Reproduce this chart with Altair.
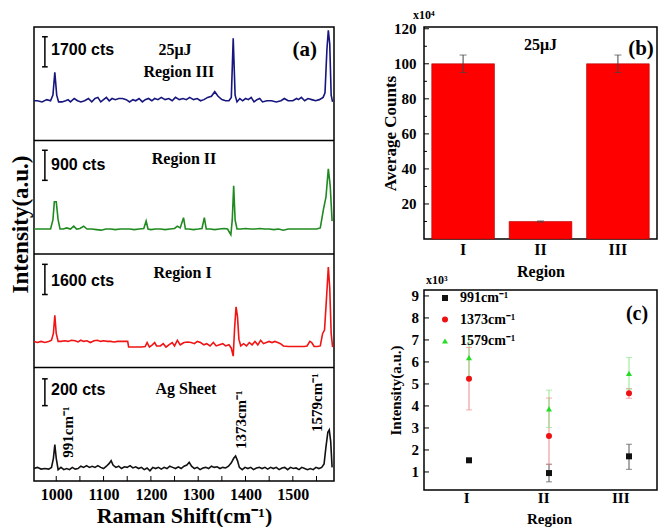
import altair as alt
import pandas as pd

SERIF = "Liberation Serif"
SANS = "Liberation Sans"

# ---------------- (a) Raman spectra ----------------
# (Raman shift cm-1, intensity as a fraction of the strip height)
REGION_III = [
    (953, 0.35), (960, 0.35), (970, 0.34), (980, 0.36), (988, 0.35), (993, 0.40),
    (997, 0.60), (1001, 0.40), (1005, 0.34), (1012, 0.34), (1020, 0.35), (1025, 0.36),
    (1030, 0.34), (1038, 0.37), (1045, 0.35), (1052, 0.34), (1060, 0.35), (1068, 0.37),
    (1075, 0.34), (1082, 0.37), (1088, 0.38), (1094, 0.34), (1100, 0.36), (1106, 0.38),
    (1112, 0.35), (1118, 0.37), (1125, 0.36), (1132, 0.37), (1140, 0.37), (1148, 0.36),
    (1155, 0.34), (1162, 0.36), (1168, 0.35), (1175, 0.37), (1182, 0.34), (1188, 0.36),
    (1195, 0.37), (1202, 0.35), (1208, 0.37), (1215, 0.36), (1222, 0.38), (1230, 0.36),
    (1238, 0.37), (1245, 0.35), (1252, 0.38), (1260, 0.36), (1268, 0.37), (1275, 0.36),
    (1282, 0.38), (1290, 0.36), (1298, 0.37), (1305, 0.35), (1312, 0.36), (1320, 0.38),
    (1328, 0.39), (1335, 0.43), (1342, 0.39), (1350, 0.36), (1358, 0.35), (1365, 0.35),
    (1370, 0.38), (1374, 0.90), (1378, 0.40), (1382, 0.34), (1388, 0.37), (1394, 0.35),
    (1400, 0.37), (1406, 0.36), (1412, 0.38), (1418, 0.34), (1424, 0.36), (1430, 0.37),
    (1436, 0.34), (1445, 0.35), (1455, 0.35), (1465, 0.34), (1475, 0.35), (1482, 0.37),
    (1490, 0.35), (1500, 0.35), (1508, 0.37), (1512, 0.36), (1518, 0.38), (1525, 0.35),
    (1532, 0.37), (1540, 0.36), (1548, 0.35), (1556, 0.36), (1564, 0.38), (1568, 0.42),
    (1572, 0.80), (1575, 0.97), (1578, 0.85), (1581, 0.40), (1584, 0.34),
]
REGION_II = [
    (953, 0.22), (965, 0.22), (978, 0.22), (988, 0.22), (993, 0.30), (996, 0.46),
    (1000, 0.46), (1004, 0.30), (1008, 0.22), (1015, 0.22), (1022, 0.23), (1030, 0.22),
    (1037, 0.245), (1043, 0.22), (1050, 0.225), (1058, 0.245), (1065, 0.22), (1075, 0.22),
    (1085, 0.215), (1095, 0.21), (1105, 0.22), (1115, 0.22), (1125, 0.215), (1135, 0.22),
    (1145, 0.22), (1155, 0.22), (1165, 0.215), (1175, 0.22), (1185, 0.225), (1190, 0.29),
    (1194, 0.22), (1200, 0.215), (1210, 0.22), (1220, 0.22), (1230, 0.215), (1240, 0.22),
    (1250, 0.225), (1256, 0.245), (1262, 0.23), (1269, 0.32), (1273, 0.22), (1280, 0.22),
    (1290, 0.215), (1300, 0.22), (1308, 0.225), (1313, 0.32), (1317, 0.22), (1325, 0.22),
    (1335, 0.215), (1345, 0.22), (1355, 0.225), (1362, 0.22), (1369, 0.17), (1372, 0.30),
    (1375, 0.60), (1378, 0.30), (1382, 0.22), (1390, 0.22), (1400, 0.225), (1410, 0.22),
    (1420, 0.22), (1430, 0.225), (1440, 0.22), (1450, 0.22), (1460, 0.215), (1470, 0.22),
    (1480, 0.21), (1490, 0.22), (1500, 0.22), (1510, 0.22), (1520, 0.22), (1530, 0.22),
    (1540, 0.22), (1550, 0.22), (1558, 0.23), (1565, 0.40), (1570, 0.50), (1575, 0.75),
    (1579, 0.60), (1583, 0.29),
]
REGION_I = [
    (953, 0.23), (960, 0.22), (968, 0.23), (976, 0.22), (984, 0.23), (990, 0.24),
    (994, 0.30), (997, 0.46), (1000, 0.30), (1004, 0.23), (1010, 0.23), (1018, 0.235),
    (1025, 0.23), (1032, 0.24), (1040, 0.235), (1046, 0.225), (1052, 0.24), (1058, 0.23),
    (1065, 0.235), (1072, 0.22), (1080, 0.235), (1087, 0.24), (1094, 0.23), (1100, 0.235),
    (1108, 0.23), (1115, 0.23), (1122, 0.225), (1130, 0.23), (1138, 0.23), (1145, 0.23),
    (1151, 0.23), (1153, 0.18), (1160, 0.18), (1170, 0.18), (1180, 0.18), (1188, 0.185),
    (1192, 0.22), (1197, 0.18), (1203, 0.20), (1208, 0.22), (1212, 0.19), (1220, 0.19),
    (1226, 0.21), (1232, 0.18), (1238, 0.20), (1245, 0.22), (1250, 0.19), (1256, 0.24),
    (1262, 0.20), (1270, 0.22), (1278, 0.225), (1285, 0.22), (1292, 0.21), (1298, 0.23),
    (1305, 0.22), (1312, 0.20), (1318, 0.21), (1325, 0.19), (1332, 0.22), (1338, 0.19),
    (1345, 0.20), (1352, 0.21), (1358, 0.19), (1365, 0.20), (1370, 0.17), (1374, 0.10),
    (1377, 0.35), (1380, 0.535), (1383, 0.45), (1386, 0.25), (1390, 0.19), (1396, 0.21),
    (1402, 0.19), (1408, 0.22), (1414, 0.20), (1420, 0.23), (1426, 0.20), (1432, 0.24),
    (1438, 0.21), (1444, 0.22), (1450, 0.23), (1456, 0.22), (1462, 0.23), (1468, 0.22),
    (1474, 0.21), (1480, 0.19), (1490, 0.185), (1500, 0.185), (1510, 0.185), (1518, 0.185),
    (1524, 0.185), (1530, 0.19), (1536, 0.23), (1540, 0.22), (1545, 0.185), (1552, 0.185),
    (1558, 0.19), (1563, 0.30), (1567, 0.33), (1571, 0.60), (1575, 0.886), (1578, 0.70),
    (1581, 0.30), (1584, 0.18),
]
AG_SHEET = [
    (953, 0.11), (960, 0.12), (968, 0.105), (976, 0.11), (984, 0.105), (990, 0.12),
    (994, 0.20), (997, 0.32), (1000, 0.20), (1004, 0.10), (1010, 0.12), (1016, 0.10),
    (1022, 0.11), (1028, 0.10), (1034, 0.12), (1040, 0.105), (1046, 0.11), (1052, 0.13),
    (1058, 0.12), (1064, 0.135), (1070, 0.12), (1076, 0.13), (1082, 0.12), (1088, 0.135),
    (1094, 0.12), (1100, 0.11), (1106, 0.13), (1112, 0.155), (1116, 0.18), (1120, 0.14),
    (1126, 0.12), (1132, 0.13), (1138, 0.11), (1144, 0.125), (1150, 0.12), (1156, 0.135),
    (1162, 0.115), (1168, 0.125), (1174, 0.11), (1180, 0.12), (1186, 0.10), (1192, 0.115),
    (1198, 0.09), (1204, 0.12), (1210, 0.11), (1216, 0.12), (1222, 0.105), (1228, 0.12),
    (1234, 0.11), (1240, 0.13), (1246, 0.12), (1252, 0.11), (1258, 0.125), (1264, 0.11),
    (1270, 0.13), (1276, 0.14), (1281, 0.165), (1286, 0.13), (1292, 0.11), (1298, 0.12),
    (1304, 0.10), (1310, 0.115), (1316, 0.12), (1322, 0.11), (1328, 0.13), (1334, 0.12),
    (1340, 0.125), (1346, 0.11), (1352, 0.12), (1358, 0.115), (1364, 0.13), (1370, 0.16),
    (1375, 0.20), (1379, 0.22), (1383, 0.18), (1387, 0.12), (1393, 0.10), (1399, 0.12),
    (1405, 0.11), (1411, 0.12), (1417, 0.10), (1423, 0.115), (1429, 0.12), (1435, 0.11),
    (1441, 0.12), (1447, 0.105), (1453, 0.12), (1459, 0.11), (1465, 0.12), (1471, 0.10),
    (1477, 0.115), (1483, 0.12), (1489, 0.10), (1495, 0.12), (1501, 0.11), (1507, 0.115),
    (1513, 0.10), (1519, 0.12), (1525, 0.11), (1531, 0.10), (1537, 0.11), (1543, 0.10),
    (1549, 0.12), (1555, 0.11), (1561, 0.12), (1566, 0.15), (1570, 0.30), (1574, 0.43),
    (1577, 0.45), (1580, 0.35), (1583, 0.12),
]

SPECTRA_NAMES = ["Region III", "Region II", "Region I", "Ag Sheet"]
SPECTRA_DATA = [REGION_III, REGION_II, REGION_I, AG_SHEET]
SPECTRA_OFFSET = [3, 2, 1, 0]
SPECTRA_COLORS = ["#16167e", "#1f8a1f", "#f01414", "#111111"]
DIVIDERS = [1, 2, 3]

SCALE_TEXT = ["1700 cts", "900 cts", "1600 cts", "200 cts"]
SCALE_TEXT_Y = [3.80, 2.78, 1.76, 0.805]
SCALE_BAR_TOP = [3.914, 2.914, 1.909, 0.900]
SCALE_BAR_BOTTOM = [3.649, 2.649, 1.643, 0.664]

REGION_TEXT = ["25\u03bcJ", "Region III", "Region II", "Region I", "Ag Sheet"]
REGION_TEXT_X = [1251, 1259, 1270, 1267, 1274]
REGION_TEXT_Y = [3.80, 3.605, 2.84, 1.835, 0.812]

PEAK_TEXT = ["991cm\u207b\u00b9", "1373cm\u207b\u00b9", "1579cm\u207b\u00b9"]
PEAK_TEXT_X = [1025, 1390, 1551]
PEAK_TEXT_Y = [0.43, 0.54, 0.69]

X_LABEL_TICKS = [1000, 1100, 1200, 1300, 1400, 1500]
X_MINOR_TICKS = [1000, 1050, 1100, 1150, 1200, 1250, 1300, 1350, 1400, 1450, 1500, 1550]

# ---------------- (b) average counts ----------------
REGIONS = ["I", "II", "III"]
B_AVG = [100, 10, 100]
B_ERR = [5, 0.3, 5]
B_TICKS_MAJOR = [20, 40, 60, 80, 100, 120]
B_TICKS_MINOR = [10, 30, 50, 70, 90, 110]

# ---------------- (c) peak intensities (x10^3) ----------------
C_SERIES = ["991cm\u207b\u00b9", "1373cm\u207b\u00b9", "1579cm\u207b\u00b9"]
C_VAL = {"991": [1.53, 0.95, 1.71], "1373": [5.24, 2.63, 4.58], "1579": [6.20, 3.87, 5.48]}
C_LO = {"991": [1.53, 0.55, 1.12], "1373": [3.82, 1.35, 4.35], "1579": [5.22, 3.02, 4.76]}
C_HI = {"991": [1.53, 1.35, 2.26], "1373": [6.66, 4.36, 4.79], "1579": [7.18, 4.72, 6.20]}
C_COLORS = ["#111111", "#ee1111", "#22dd22"]
C_ERR_COLORS = ["#555555", "#f08a8a", "#8fe88f"]
C_SHAPES = ["square", "circle", "triangle-up"]
C_TICKS = [1, 2, 3, 4, 5, 6, 7, 8, 9]

# sizes
A_W, A_H = 300, 454
B_W, B_H = 233, 212
C_W, C_H = 233, 200

# ======== panel (a) ========
rows = []
for name, pts, off in zip(SPECTRA_NAMES, SPECTRA_DATA, SPECTRA_OFFSET):
    for s, f in pts:
        rows.append({"spectrum": name, "shift": s, "y": off + f})
spec_df = pd.DataFrame(rows)

xs = alt.Scale(domain=[953, 1587], nice=False, zero=False)
ys = alt.Scale(domain=[0, 4], nice=False, zero=False)

AX = alt.X("shift:Q", scale=xs, axis=alt.Axis(
    values=X_LABEL_TICKS, format="d", title="Raman Shift(cm\u207b\u00b9)", grid=False,
    ticks=False, domain=False, labelFont=SERIF, labelFontWeight="bold", labelFontSize=16,
    labelColor="black", labelPadding=5, titleFont=SERIF, titleFontWeight="bold",
    titleFontSize=22, titleColor="black", titlePadding=3))
AY = alt.Y("y:Q", scale=ys, axis=alt.Axis(
    labels=False, ticks=False, domain=False, grid=False, title="Intensity(a.u.)",
    titleFont=SERIF, titleFontWeight="bold", titleFontSize=23, titleColor="black",
    titleBaseline="middle", titleX=-13.5, titleY=197))
AXp = alt.X("shift:Q", scale=xs)
AYp = alt.Y("y:Q", scale=ys)

lines = alt.Chart(spec_df).mark_line(strokeWidth=1.6).encode(
    x=AX, y=AY,
    color=alt.Color("spectrum:N", scale=alt.Scale(domain=SPECTRA_NAMES, range=SPECTRA_COLORS), legend=None),
)
dividers = alt.Chart(pd.DataFrame({"y": DIVIDERS})).mark_rule(color="black", strokeWidth=1.5).encode(y=AYp)

bar_df = pd.DataFrame({"shift": [976] * 4, "y": SCALE_BAR_TOP, "y2": SCALE_BAR_BOTTOM})
scale_bars = alt.Chart(bar_df).mark_rule(color="black", strokeWidth=1.5).encode(x=AXp, y=AYp, y2="y2:Q")
cap_df = pd.DataFrame({"shift": [970] * 8, "shift2": [982] * 8, "y": SCALE_BAR_TOP + SCALE_BAR_BOTTOM})
scale_caps = alt.Chart(cap_df).mark_rule(color="black", strokeWidth=1.5).encode(x=AXp, x2="shift2:Q", y=AYp)

scale_txt = alt.Chart(pd.DataFrame({"shift": [989] * 4, "y": SCALE_TEXT_Y, "label": SCALE_TEXT})).mark_text(
    font=SANS, fontWeight="bold", fontSize=16, align="left", baseline="middle", color="black"
).encode(x=AXp, y=AYp, text="label:N")
region_txt = alt.Chart(pd.DataFrame({"shift": REGION_TEXT_X, "y": REGION_TEXT_Y, "label": REGION_TEXT})).mark_text(
    font=SERIF, fontWeight="bold", fontSize=16, align="center", baseline="middle", color="black"
).encode(x=AXp, y=AYp, text="label:N")
panel_a = alt.Chart(pd.DataFrame({"shift": [1525], "y": [3.80], "label": ["(a)"]})).mark_text(
    font=SERIF, fontWeight="bold", fontSize=21, align="center", baseline="middle", color="black"
).encode(x=AXp, y=AYp, text="label:N")
peak_txt = alt.Chart(pd.DataFrame({"shift": PEAK_TEXT_X, "y": PEAK_TEXT_Y, "label": PEAK_TEXT})).mark_text(
    font=SERIF, fontWeight="bold", fontSize=15, angle=270, align="center", baseline="middle", color="black"
).encode(x=AXp, y=AYp, text="label:N")
a_ticks = alt.Chart(pd.DataFrame({"shift": X_MINOR_TICKS})).mark_rule(color="black", strokeWidth=1).encode(
    x=AXp, y=alt.value(A_H), y2=alt.value(A_H - 5))

left = alt.layer(lines, dividers, scale_bars, scale_caps, scale_txt, region_txt, panel_a, peak_txt, a_ticks).properties(
    width=A_W, height=A_H)

# ======== panel (b) ========
b_df = pd.DataFrame({
    "region": REGIONS, "avg": B_AVG,
    "lo": [a - e for a, e in zip(B_AVG, B_ERR)], "hi": [a + e for a, e in zip(B_AVG, B_ERR)],
})
bxs = alt.Scale(domain=REGIONS, paddingInner=0.19, paddingOuter=0.1)
bys = alt.Scale(domain=[0, 121], nice=False, zero=True)
BX = alt.X("region:N", sort=REGIONS, scale=bxs, axis=alt.Axis(
    title="Region", labelAngle=0, ticks=False, domain=False, labelFont=SERIF, labelFontWeight="bold",
    labelFontSize=16, labelColor="black", labelPadding=2, titleFont=SERIF, titleFontWeight="bold",
    titleFontSize=16, titleColor="black", titlePadding=6))
BY = alt.Y("avg:Q", scale=bys, axis=alt.Axis(
    values=B_TICKS_MAJOR, title="Average Counts", grid=False, ticks=False, domain=False,
    labelFont=SERIF, labelFontWeight="bold", labelFontSize=15, labelColor="black", labelPadding=8,
    labelOverlap=False,
    titleFont=SERIF, titleFontWeight="bold", titleFontSize=17, titleColor="black",
    titleBaseline="middle", titleX=-34))
BXp = alt.X("region:N", sort=REGIONS, scale=bxs)

bars = alt.Chart(b_df).mark_bar(color="#ff0000", stroke="#b00000", strokeWidth=0.6).encode(x=BX, y=BY)
b_err = alt.Chart(b_df).mark_rule(color="#444444", strokeWidth=1).encode(
    x=BXp, y=alt.Y("lo:Q", scale=bys), y2="hi:Q")
b_cap_hi = alt.Chart(b_df).mark_tick(color="#444444", size=7, thickness=1).encode(x=BXp, y=alt.Y("hi:Q", scale=bys))
b_cap_lo = alt.Chart(b_df).mark_tick(color="#444444", size=7, thickness=1).encode(x=BXp, y=alt.Y("lo:Q", scale=bys))
b_tmaj = alt.Chart(pd.DataFrame({"t": B_TICKS_MAJOR})).mark_rule(color="black", strokeWidth=1).encode(
    y=alt.Y("t:Q", scale=bys), x=alt.value(0), x2=alt.value(5))
b_tmin = alt.Chart(pd.DataFrame({"t": B_TICKS_MINOR})).mark_rule(color="black", strokeWidth=1).encode(
    y=alt.Y("t:Q", scale=bys), x=alt.value(0), x2=alt.value(3))
b_lbl = alt.Chart(pd.DataFrame({"region": ["II"], "avg": [110.5], "label": ["25\u03bcJ"]})).mark_text(
    font=SERIF, fontWeight="bold", fontSize=16, color="black", baseline="middle").encode(
    x=BXp, y=alt.Y("avg:Q", scale=bys), text="label:N")
b_tag = alt.Chart(pd.DataFrame({"label": ["(b)"]})).mark_text(
    font=SERIF, fontWeight="bold", fontSize=21, color="black", baseline="middle").encode(
    x=alt.value(217), y=alt.value(22), text="label:N")

panel_b = alt.layer(bars, b_err, b_cap_hi, b_cap_lo, b_tmaj, b_tmin, b_lbl, b_tag).properties(
    width=B_W, height=B_H,
    title=alt.TitleParams("x10\u2074", anchor="start", frame="group", font=SERIF, fontWeight="bold",
                          fontSize=12, color="black", offset=0, dx=-11))

# ======== panel (c) ========
crows = []
for key, name in zip(["991", "1373", "1579"], C_SERIES):
    for i, r in enumerate(REGIONS):
        crows.append({"region": r, "series": name, "val": C_VAL[key][i], "lo": C_LO[key][i], "hi": C_HI[key][i]})
c_df = pd.DataFrame(crows)

cxs = alt.Scale(type="point", domain=REGIONS, range=[45, 205], padding=0)
cys = alt.Scale(domain=[0.18, 9.27], nice=False, zero=False)
CX = alt.X("region:N", sort=REGIONS, scale=cxs, axis=alt.Axis(
    title="Region", labelAngle=0, ticks=False, domain=False, labelFont=SERIF, labelFontWeight="bold",
    labelFontSize=15, labelColor="black", labelPadding=7, titleFont=SERIF, titleFontWeight="bold",
    titleFontSize=15, titleColor="black", titlePadding=6))
CY = alt.Y("val:Q", scale=cys, axis=alt.Axis(
    labels=False, title="Intensity(a.u.)", grid=False, ticks=False, domain=False,
    titleFont=SERIF, titleFontWeight="bold", titleFontSize=15, titleColor="black",
    titleBaseline="middle", titleX=-29))
CXp = alt.X("region:N", sort=REGIONS, scale=cxs)
err_color = alt.Color("series:N", scale=alt.Scale(domain=C_SERIES, range=C_ERR_COLORS), legend=None)

c_base = alt.Chart(c_df)
c_err = c_base.transform_filter("datum.hi > datum.lo").mark_rule(strokeWidth=1).encode(
    x=CXp, y=alt.Y("lo:Q", scale=cys), y2="hi:Q", color=err_color)
c_cap_hi = c_base.transform_filter("datum.hi > datum.lo").mark_tick(size=6, thickness=1).encode(
    x=CXp, y=alt.Y("hi:Q", scale=cys), color=err_color)
c_cap_lo = c_base.transform_filter("datum.hi > datum.lo").mark_tick(size=6, thickness=1).encode(
    x=CXp, y=alt.Y("lo:Q", scale=cys), color=err_color)
c_pts = c_base.mark_point(filled=True, size=36, opacity=1).encode(
    x=CX, y=CY,
    color=alt.Color("series:N", scale=alt.Scale(domain=C_SERIES, range=C_COLORS), legend=None),
    shape=alt.Shape("series:N", scale=alt.Scale(domain=C_SERIES, range=C_SHAPES), legend=None),
)
c_tick_df = pd.DataFrame({"t": C_TICKS, "label": [str(t) for t in C_TICKS]})
c_t = alt.Chart(c_tick_df).mark_rule(color="black", strokeWidth=1).encode(
    y=alt.Y("t:Q", scale=cys), x=alt.value(0), x2=alt.value(5))
c_tl = alt.Chart(c_tick_df).mark_text(font=SERIF, fontWeight="bold", fontSize=15, color="black",
                                      align="right", baseline="middle").encode(
    y=alt.Y("t:Q", scale=cys), x=alt.value(-5), text="label:N")
c_tag = alt.Chart(pd.DataFrame({"label": ["(c)"]})).mark_text(
    font=SERIF, fontWeight="bold", fontSize=20, color="black", baseline="middle").encode(
    x=alt.value(213), y=alt.value(24), text="label:N")

# hand-made legend (top-left, inside the frame)
legend_layers = []
for i, (name, col, shp) in enumerate(zip(C_SERIES, C_COLORS, C_SHAPES)):
    ly = 8 + 21.5 * i
    one = alt.Chart(pd.DataFrame({"label": [name]}))
    legend_layers.append(one.mark_point(filled=True, size=36, opacity=1, shape=shp, color=col).encode(
        x=alt.value(21), y=alt.value(ly)))
    legend_layers.append(one.mark_text(font=SERIF, fontWeight="bold", fontSize=14, color="black",
                                       align="left", baseline="middle").encode(
        x=alt.value(36), y=alt.value(ly), text="label:N"))

panel_c = alt.layer(c_err, c_cap_hi, c_cap_lo, c_pts, c_t, c_tl, c_tag, *legend_layers).resolve_scale(
    color="independent").properties(
    width=C_W, height=C_H,
    title=alt.TitleParams("x10\u00b3", anchor="start", frame="group", font=SERIF, fontWeight="bold",
                          fontSize=12, color="black", offset=2, dx=2))

right = alt.vconcat(panel_b, panel_c, spacing=-7)
chart = alt.hconcat(left, right, spacing=43).properties(padding=0, background="white").configure_view(
    stroke="black", strokeWidth=1.5)

chart.save("out.html", embed_options={"renderer": "svg", "actions": False})
